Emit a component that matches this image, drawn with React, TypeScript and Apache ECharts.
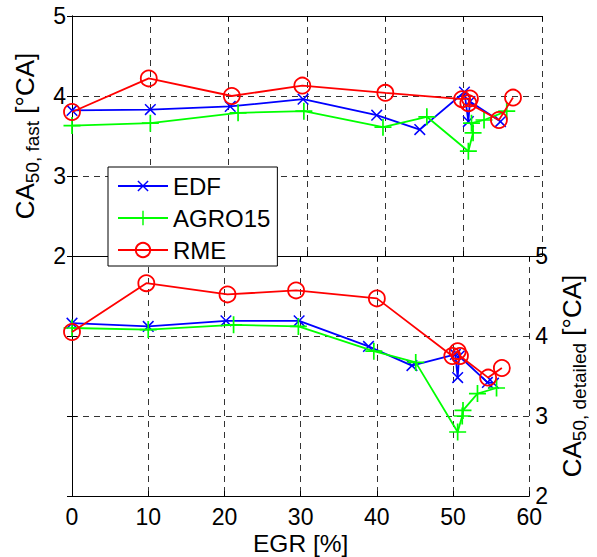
import React, { useEffect, useRef } from "react";
import * as echarts from "echarts";

const seriesNames = ["EDF", "AGRO15", "RME"];

const edfFast = [[0, 3.82], [10, 3.83], [20.2, 3.87], [29.5, 3.96], [38.9, 3.76], [44.4, 3.58], [50.1, 4.05], [50.6, 3.68], [50.8, 3.93], [54.7, 3.68]];
const agroFast = [[0, 3.63], [10, 3.66], [21.2, 3.79], [29.6, 3.81], [39.7, 3.61], [45.3, 3.74], [50.6, 3.31], [51.2, 3.54], [51.0, 3.66], [52.6, 3.7], [55.5, 3.81]];
const rmeFast = [[0, 3.8], [9.8, 4.22], [20.4, 4.0], [29.4, 4.13], [40, 4.04], [49.8, 3.96], [50.8, 3.97], [50.6, 3.91], [54.5, 3.7], [56.3, 3.98]];

const edfDet = [[0, 4.16], [10, 4.12], [20.2, 4.19], [29.8, 4.19], [38.9, 3.87], [44.6, 3.63], [50.3, 3.77], [50.6, 3.48], [50.8, 3.75], [54.5, 3.42], [55.3, 3.41]];
const agroDet = [[0, 4.1], [10, 4.08], [21.2, 4.14], [29.7, 4.12], [39.6, 3.81], [45.1, 3.67], [50.6, 2.8], [51.2, 3.0], [51.3, 3.07], [53.2, 3.28], [55.7, 3.35]];
const rmeDet = [[0, 4.05], [9.75, 4.66], [20.4, 4.52], [29.4, 4.57], [40, 4.47], [49.9, 3.75], [50.6, 3.81], [50.9, 3.75], [54.6, 3.48], [56.4, 3.6]];

const FONT = "'Liberation Sans', Arial, sans-serif";
const PLUS = "path://M-1,-10L1,-10L1,-1L10,-1L10,1L1,1L1,10L-1,10L-1,1L-10,1L-10,-1L-1,-1Z";

export default function App() {
  const ref = useRef<HTMLDivElement>(null);
  useEffect(() => {
    if (!ref.current) return;
    const chart = echarts.init(ref.current, null, { renderer: "svg" });
    const split = { show: true, lineStyle: { color: "#333", type: [6, 5], width: 1 } };
    const tick = { show: true, inside: true, length: 5, lineStyle: { color: "#000", width: 1 } };
    const aline = { show: true, lineStyle: { color: "#000", width: 1 } };
    const lbl = { color: "#000", fontSize: 23, fontFamily: FONT };
    const xBase = { type: "value", min: 0, max: 60, interval: 10, axisLine: aline, axisTick: tick };
    const yBase = { type: "value", min: 2, max: 5, interval: 1, axisLine: aline, axisTick: tick };
    const rich = {
      a: { fontSize: 26, fontFamily: FONT, color: "#000" },
      b: { fontSize: 19, fontFamily: FONT, color: "#000", padding: [15, 0, 0, 0] },
    };
    const mk = (name: string, data: number[][], xi: number, yi: number) => {
      const idx = seriesNames.indexOf(name);
      const color = ["#0000ff", "#00ff00", "#ff0000"][idx];
      const base: any = {
        name,
        type: "line",
        data,
        xAxisIndex: xi,
        yAxisIndex: yi,
        lineStyle: { color, width: 1.8 },
        z: 3 + idx,
      };
      if (idx === 0) {
        base.symbol = PLUS;
        base.symbolRotate = 45;
        base.symbolSize = 15;
        base.itemStyle = { color };
      } else if (idx === 1) {
        base.symbol = PLUS;
        base.symbolSize = 17;
        base.itemStyle = { color };
      } else {
        base.symbol = "circle";
        base.symbolSize = 16;
        base.itemStyle = { color: "transparent", borderColor: color, borderWidth: 1.8 };
      }
      return base;
    };
    chart.setOption({
      animation: false,
      backgroundColor: "#fff",
      textStyle: { fontFamily: FONT },
      grid: [
        { left: 72, top: 16, width: 470, height: 240 },
        { left: 72, top: 256, width: 470, height: 241 },
      ],
      legend: {
        data: seriesNames,
        orient: "vertical",
        left: 108,
        top: 167,
        padding: [7, 7, 4, 9],
        itemWidth: 50,
        itemHeight: 18,
        itemGap: 8,
        backgroundColor: "#fff",
        borderColor: "#000",
        borderWidth: 1,
        borderRadius: 0,
        textStyle: { color: "#000", fontSize: 24, fontFamily: FONT },
        z: 10,
      },
      xAxis: [
        { ...xBase, gridIndex: 0, position: "bottom", axisLabel: { show: false }, splitLine: split },
        { ...xBase, gridIndex: 0, position: "top", axisLabel: { show: false }, splitLine: { show: false } },
        {
          ...xBase, gridIndex: 1, position: "bottom", axisLabel: { ...lbl, margin: 9 }, splitLine: split,
          name: "EGR [%]", nameLocation: "middle", nameGap: 35, nameTextStyle: { ...lbl, fontSize: 24.5 },
        },
        { ...xBase, gridIndex: 1, position: "top", axisLabel: { show: false }, splitLine: { show: false } },
      ],
      yAxis: [
        {
          ...yBase, gridIndex: 0, position: "left", axisLabel: { ...lbl, margin: 6 }, splitLine: split,
          name: "{a|CA}{b|50, fast}{a| [°CA]}", nameLocation: "middle", nameRotate: 90, nameGap: 28,
          nameTextStyle: { rich },
        },
        { ...yBase, gridIndex: 0, position: "right", axisLabel: { show: false }, splitLine: { show: false } },
        { ...yBase, gridIndex: 1, position: "left", axisLabel: { show: false }, splitLine: split },
        {
          ...yBase, gridIndex: 1, position: "right", axisLabel: { ...lbl, margin: 6 }, splitLine: { show: false },
          name: "{a|CA}{b|50, detailed}{a| [°CA]}", nameLocation: "middle", nameRotate: 90, nameGap: 22,
          nameTextStyle: { rich },
        },
      ],
      series: [
        mk("EDF", edfFast, 0, 0),
        mk("AGRO15", agroFast, 0, 0),
        mk("RME", rmeFast, 0, 0),
        mk("EDF", edfDet, 2, 3),
        mk("AGRO15", agroDet, 2, 3),
        mk("RME", rmeDet, 2, 3),
      ],
    });
    return () => chart.dispose();
  }, []);
  return <div ref={ref} style={{ position: "fixed", left: 0, top: 0, width: 597, height: 557 }} />;
}
